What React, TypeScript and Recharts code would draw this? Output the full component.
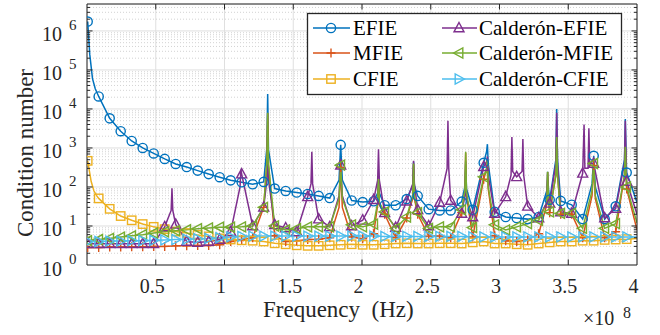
import React from 'react';
import { LineChart, Line, XAxis, YAxis, CartesianGrid, ReferenceLine } from 'recharts';

// ---------- data (frequency in units of 1e8 Hz) ----------
const freq = [0.005, 0.085, 0.165, 0.245, 0.325, 0.405, 0.485, 0.565, 0.645, 0.725, 0.805, 0.885, 0.965, 1.045, 1.125, 1.205, 1.285, 1.365, 1.445, 1.525, 1.605, 1.685, 1.765, 1.845, 1.925, 2.005, 2.085, 2.165, 2.245, 2.325, 2.405, 2.485, 2.565, 2.645, 2.725, 2.805, 2.885, 2.965, 3.045, 3.125, 3.205, 3.285, 3.365, 3.445, 3.525, 3.605, 3.685, 3.765, 3.845, 3.925];

const efieMarks = [1740000, 20900, 5750, 2690, 1510, 1000, 724, 525, 389, 324, 263, 214, 178, 148, 132, 117, 135, 91, 79, 72, 66, 59, 52, 1200, 45, 41, 43, 34, 34, 49, 59, 27, 25, 25, 42, 26, 417, 23, 17, 16, 15, 17, 47, 44, 35, 15, 630, 15, 32, 234];
const efieExtra = [[0.02, 250000], [0.04, 60000], [0.06, 33000], [1.308, 1000], [1.314, 24000], [1.32, 900], [1.833, 150], [1.857, 150], [2.114, 70], [2.12, 160], [2.126, 70], [2.369, 110], [2.375, 450], [2.381, 110], [2.748, 100], [2.754, 450], [2.76, 90], [2.906, 800], [2.912, 1250], [2.918, 400], [3.344, 80], [3.35, 245], [3.356, 90], [3.41, 500], [3.416, 10000], [3.422, 500], [3.673, 120], [3.697, 100], [3.909, 500], [3.915, 5500], [3.921, 600], [4.0, 40]];

const mfieMarks = [2.8, 2.8, 2.9, 2.9, 2.95, 2.95, 3.0, 3.0, 3.1, 3.1, 3.15, 3.15, 3.3, 4.0, 4.5, 5.0, 30, 5.6, 4.0, 4.2, 4.5, 4.6, 5.0, 316, 5.2, 4.7, 6.3, 20, 5.0, 16, 20, 5.5, 5.5, 5.0, 22, 5.2, 158, 5.6, 4.2, 4.0, 4.4, 6.3, 22, 20, 20, 5.0, 355, 5.0, 7.1, 89];
const mfieExtra = [[1.308, 400], [1.314, 7900], [1.32, 350], [1.833, 30], [1.857, 30], [2.114, 35], [2.12, 150], [2.126, 35], [2.369, 50], [2.375, 380], [2.381, 50], [2.748, 70], [2.754, 750], [2.76, 60], [2.906, 280], [2.912, 480], [2.918, 90], [3.344, 35], [3.35, 240], [3.356, 45], [3.41, 200], [3.416, 1800], [3.422, 200], [3.673, 60], [3.697, 50], [3.909, 200], [3.915, 1000], [3.921, 200], [4.0, 8]];

const cfieMarks = [468, 51, 27.5, 18, 14, 11.2, 9.5, 8.3, 7.2, 6.6, 5.9, 5.4, 4.8, 4.5, 4.3, 4.2, 4.0, 3.6, 3.4, 3.2, 3.1, 3.1, 3.2, 3.3, 3.4, 3.3, 3.3, 3.4, 3.55, 3.6, 3.55, 3.55, 3.6, 3.6, 3.55, 3.8, 4.0, 3.55, 3.55, 3.4, 3.3, 3.55, 3.8, 4.0, 4.0, 4.2, 4.2, 4.4, 4.5, 4.6];
const cfieExtra = [[0.03, 140], [0.05, 80], [0.07, 60], [4.0, 4.8]];

const cefieMarks = [3.5, 3.5, 3.5, 3.5, 3.5, 3.5, 3.5, 9.5, 11, 4.0, 3.8, 4.0, 4.5, 7.1, 214, 10, 30, 10.7, 8.9, 7.1, 56, 15, 9.5, 363, 10, 14, 47, 22, 9.1, 43, 26, 10, 40, 45, 21, 17, 330, 21, 56, 182, 32, 16, 38, 23, 21, 224, 400, 16, 28, 138];
const cefieExtra = [[0.612, 25], [0.618, 93], [0.624, 25], [1.113, 100], [1.119, 280], [1.308, 150], [1.314, 2000], [1.32, 150], [1.629, 120], [1.635, 800], [1.641, 120], [1.833, 60], [1.857, 60], [2.114, 150], [2.12, 930], [2.126, 150], [2.369, 120], [2.375, 470], [2.381, 120], [2.619, 300], [2.625, 5000], [2.631, 300], [2.748, 60], [2.754, 250], [2.76, 50], [2.906, 450], [2.912, 600], [2.918, 200], [3.084, 200], [3.09, 1900], [3.096, 250], [3.164, 250], [3.17, 1700], [3.176, 200], [3.344, 40], [3.35, 150], [3.356, 45], [3.41, 400], [3.416, 8000], [3.422, 400], [3.615, 4000], [3.621, 300], [3.644, 300], [3.65, 3200], [3.656, 400], [3.909, 400], [3.915, 5000], [3.921, 400], [4.0, 20]];

const cmfieMarks = [4.2, 4.5, 4.8, 5.2, 5.6, 6.0, 6.6, 7.1, 7.6, 8.0, 8.5, 8.9, 9.3, 9.3, 9.5, 10, 30, 10, 7.9, 8.5, 9.5, 9.5, 9.5, 363, 10.7, 9.5, 11.2, 23, 8.7, 17, 22, 8.7, 9.5, 9.5, 26, 9.1, 182, 10.7, 7.9, 9.5, 11.5, 14, 23, 21, 21, 8.7, 400, 8.7, 11.5, 100];
const cmfieExtra = [[1.308, 420], [1.314, 8000], [1.32, 380], [1.833, 50], [1.857, 50], [2.114, 40], [2.12, 160], [2.126, 40], [2.369, 60], [2.375, 400], [2.381, 60], [2.748, 80], [2.754, 800], [2.76, 70], [2.906, 300], [2.912, 500], [2.918, 100], [3.344, 40], [3.35, 245], [3.356, 50], [3.41, 200], [3.416, 1900], [3.422, 200], [3.673, 80], [3.697, 60], [3.909, 200], [3.915, 1070], [3.921, 200], [4.0, 12]];

const ccfieMarks = [4.0, 4.0, 4.1, 4.1, 4.2, 4.2, 4.3, 4.4, 4.5, 4.6, 4.7, 4.8, 5.0, 5.25, 5.4, 5.5, 5.5, 5.5, 5.5, 5.5, 5.5, 5.5, 5.5, 5.5, 5.6, 5.5, 5.5, 5.4, 5.4, 5.4, 5.4, 5.4, 5.4, 5.4, 5.4, 5.25, 5.25, 5.25, 5.25, 5.25, 5.25, 5.25, 5.25, 5.25, 5.25, 5.25, 5.25, 5.25, 5.25, 5.25];
const ccfieExtra = [[4.0, 5.25]];

const seriesNames = ['EFIE', 'MFIE', 'CFIE', 'Calderón-EFIE', 'Calderón-MFIE', 'Calderón-CFIE'];
const xTicks = [0.5, 1, 1.5, 2, 2.5, 3, 3.5, 4];
const xTickLabels = ['0.5', '1', '1.5', '2', '2.5', '3', '3.5', '4'];
const yTicks = [1, 10, 100, 1000, 10000, 100000, 1000000];
const yTickExponents = ['0', '1', '2', '3', '4', '5', '6'];
const Y_MAX = 4.9e6;

// ---------- styling ----------
const FONT = '"Liberation Serif", "Times New Roman", serif';
const AX = '#262626';

type Pt = { f: number; v: number; m: boolean };
function buildData(marks: number[], extra: number[][]): Pt[] {
  const pts: Pt[] = marks.map((v, i) => ({ f: freq[i], v, m: true }));
  extra.forEach(([f, v]) => pts.push({ f, v, m: false }));
  pts.sort((a, b) => a.f - b.f);
  return pts;
}

const series = [
  { name: seriesNames[0], color: '#0072BD', marker: 'circle', data: buildData(efieMarks, efieExtra) },
  { name: seriesNames[1], color: '#D95319', marker: 'plus', data: buildData(mfieMarks, mfieExtra) },
  { name: seriesNames[2], color: '#EDB120', marker: 'square', data: buildData(cfieMarks, cfieExtra) },
  { name: seriesNames[3], color: '#7E2F8E', marker: 'up', data: buildData(cefieMarks, cefieExtra) },
  { name: seriesNames[4], color: '#77AC30', marker: 'left', data: buildData(cmfieMarks, cmfieExtra) },
  { name: seriesNames[5], color: '#4DBEEE', marker: 'right', data: buildData(ccfieMarks, ccfieExtra) },
];

function Marker({ type, cx, cy, color }: { type: string; cx: number; cy: number; color: string }) {
  const sw = 1.4;
  switch (type) {
    case 'circle':
      return <circle cx={cx} cy={cy} r={4.6} fill="none" stroke={color} strokeWidth={sw} />;
    case 'plus':
      return <path d={`M${cx - 4.5},${cy}H${cx + 4.5}M${cx},${cy - 4.5}V${cy + 4.5}`} stroke={color} strokeWidth={sw} fill="none" />;
    case 'square':
      return <rect x={cx - 4.2} y={cy - 4.2} width={8.4} height={8.4} fill="none" stroke={color} strokeWidth={sw} />;
    case 'up':
      return <polygon points={`${cx},${cy - 5.5} ${cx + 5},${cy + 3.8} ${cx - 5},${cy + 3.8}`} fill="none" stroke={color} strokeWidth={sw} />;
    case 'left':
      return <polygon points={`${cx - 5.5},${cy} ${cx + 3.8},${cy - 5} ${cx + 3.8},${cy + 5}`} fill="none" stroke={color} strokeWidth={sw} />;
    case 'right':
      return <polygon points={`${cx + 5.5},${cy} ${cx - 3.8},${cy - 5} ${cx - 3.8},${cy + 5}`} fill="none" stroke={color} strokeWidth={sw} />;
    default:
      return null;
  }
}

const XTick = (props: any) => {
  const { x, y, payload } = props;
  const i = xTicks.indexOf(payload.value);
  return (
    <text x={x - 3.5} y={y + 28} textAnchor="middle" fontSize={20} fontFamily={FONT} fill={AX}>
      {xTickLabels[i]}
    </text>
  );
};

const YTick = (props: any) => {
  const { x, y, payload } = props;
  const i = yTicks.indexOf(payload.value);
  return (
    <g>
      <text x={x - 25} y={y + 10.5} textAnchor="end" fontSize={20} fontFamily={FONT} fill={AX}>10</text>
      <text x={x - 18} y={y - 1} textAnchor="start" fontSize={15} fontFamily={FONT} fill={AX}>{yTickExponents[i]}</text>
    </g>
  );
};

// axis helpers (grid / tick positions in data space)
const minorY: number[] = [];
for (let n = 0; n <= 6; n++) {
  for (let m = 2; m <= 9; m++) {
    const v = m * Math.pow(10, n);
    if (v < Y_MAX) minorY.push(v);
  }
}
const X_TICK_LEN = 0.04;
const X_MINOR_LEN = 0.022;
const Y_TICK_FAC = Math.pow(10, 5.5 / 39);

export default function App() {
  const legendRows = [28, 53, 79];
  const cols = [
    { lx1: 313, lx2: 350, mx: 331, tx: 353 },
    { lx1: 442, lx2: 477, mx: 459, tx: 479 },
  ];
  return (
    <div style={{ position: 'absolute', left: 0, top: 0, width: 660, height: 335, background: '#fff' }}>
      <LineChart width={660} height={335} margin={{ top: 4, right: 23, bottom: 0, left: 0 }}>
        <CartesianGrid stroke="#dfdfdf" strokeWidth={1} />
        {minorY.map((v) => (
          <ReferenceLine key={'mg' + v} y={v} stroke="#c8c8c8" strokeWidth={0.8} strokeDasharray="1 2" />
        ))}
        <XAxis
          type="number"
          dataKey="f"
          domain={[0, 4]}
          ticks={xTicks}
          interval={0}
          tick={(p: any) => <XTick {...p} />}
          tickLine={false}
          tickSize={0}
          tickMargin={0}
          height={70}
          axisLine={{ stroke: AX }}
          allowDataOverflow
        />
        <YAxis
          type="number"
          scale="log"
          domain={[1, Y_MAX]}
          ticks={yTicks}
          interval={0}
          tick={(p: any) => <YTick {...p} />}
          tickLine={false}
          tickSize={0}
          tickMargin={0}
          width={87}
          axisLine={{ stroke: AX }}
          allowDataOverflow
        />
        {series.map((s) => (
          <Line
            key={s.name}
            name={s.name}
            data={s.data}
            dataKey="v"
            type="linear"
            stroke={s.color}
            strokeWidth={1.5}
            isAnimationActive={false}
            activeDot={false}
            dot={(p: any) => {
              const k = `${s.name}-${p.index}`;
              if (!p.payload || !p.payload.m || p.cx == null || p.cy == null) return <g key={k} />;
              return (
                <g key={k}>
                  <Marker type={s.marker} cx={p.cx} cy={p.cy} color={s.color} />
                </g>
              );
            }}
          />
        ))}
        {/* box */}
        <ReferenceLine x={4} stroke={AX} strokeWidth={1} />
        <ReferenceLine y={Y_MAX} stroke={AX} strokeWidth={1} />
        {/* x ticks bottom / top */}
        {xTicks.slice(0, -1).map((t) => (
          <ReferenceLine key={'xb' + t} segment={[{ x: t, y: 1 }, { x: t, y: Y_TICK_FAC }]} stroke={AX} />
        ))}
        {xTicks.slice(0, -1).map((t) => (
          <ReferenceLine key={'xt' + t} segment={[{ x: t, y: Y_MAX }, { x: t, y: Y_MAX / Y_TICK_FAC }]} stroke={AX} />
        ))}
        {/* y major ticks left / right */}
        {yTicks.slice(1).map((t) => (
          <ReferenceLine key={'yl' + t} segment={[{ x: 0, y: t }, { x: X_TICK_LEN, y: t }]} stroke={AX} />
        ))}
        {yTicks.slice(1).map((t) => (
          <ReferenceLine key={'yr' + t} segment={[{ x: 4, y: t }, { x: 4 - X_TICK_LEN, y: t }]} stroke={AX} />
        ))}
        {minorY.map((t) => (
          <ReferenceLine key={'yml' + t} segment={[{ x: 0, y: t }, { x: X_MINOR_LEN, y: t }]} stroke={AX} />
        ))}
        {minorY.map((t) => (
          <ReferenceLine key={'ymr' + t} segment={[{ x: 4, y: t }, { x: 4 - X_MINOR_LEN, y: t }]} stroke={AX} />
        ))}
      </LineChart>
      <svg width={660} height={335} style={{ position: 'absolute', left: 0, top: 0, pointerEvents: 'none' }}>
        <text
          x={33}
          y={153}
          transform="rotate(-90 33 153)"
          textAnchor="middle"
          fontSize={23}
          fontFamily={FONT}
          fill={AX}
        >
          Condition number
        </text>
        <text x={263} y={317} fontSize={23} fontFamily={FONT} fill={AX} style={{ whiteSpace: 'pre' }}>
          {'Frequency  (Hz)'}
        </text>
        <text x={583} y={325} fontSize={20} fontFamily={FONT} fill={AX}>×10</text>
        <text x={623} y={318} fontSize={16} fontFamily={FONT} fill={AX}>8</text>
        {/* legend */}
        <rect x={307.5} y={13.5} width={314} height={81} fill="#fff" stroke={AX} strokeWidth={1.3} />
        {series.map((s, i) => {
          const c = cols[Math.floor(i / 3)];
          const ry = legendRows[i % 3];
          return (
            <g key={'lg' + s.name}>
              <line x1={c.lx1} y1={ry} x2={c.lx2} y2={ry} stroke={s.color} strokeWidth={1.5} />
              <Marker type={s.marker} cx={c.mx} cy={ry} color={s.color} />
              <text x={c.tx} y={ry + 7} fontSize={21} fontFamily={FONT} fill="#000">{s.name}</text>
            </g>
          );
        })}
      </svg>
    </div>
  );
}
